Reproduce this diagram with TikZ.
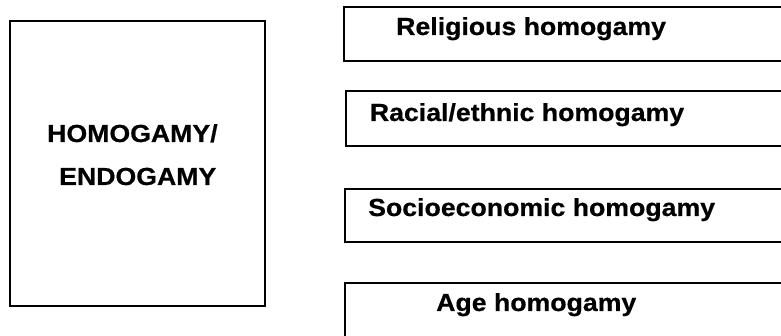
\documentclass[tikz,border=0pt]{standalone}
\usepackage{fontspec}
\newfontfamily\boxfont{Liberation Sans}[FakeStretch=1.08, FakeBold=0.6]

\tikzset{
	lbl/.style={font=\boxfont\bfseries\fontsize{24.7}{28}\selectfont, inner sep=0pt, anchor=base west},
	box/.style={line width=2pt}
}

\begin{document}
\begin{tikzpicture}[x=1pt, y=-1pt]
			
			\clip (0,0) rectangle (781,336);
			
			\draw[box] (10,21) rectangle (265,306);
			\node[lbl] (homo) at (47,142) {HOMOGAMY/};
			\node[lbl] (endo) at (59,185) {ENDOGAMY};
			
			\draw[box] (343.5,7) rectangle (800,61);
			\node[lbl] (relig) at (396,35) {Religious homogamy};
			
			\draw[box] (345.7,91.5) rectangle (800,145.7);
			\node[lbl] (racial) at (369.7,121) {Racial/ethnic homogamy};
			
			\draw[box] (345.3,189.5) rectangle (800,242);
			\node[lbl] (socio) at (368,216) {Socioeconomic homogamy};
			
			\draw[box] (345.3,283.5) rectangle (800,360);
			\node[lbl] (age) at (436,311) {Age homogamy};
			
\end{tikzpicture}
\end{document}
